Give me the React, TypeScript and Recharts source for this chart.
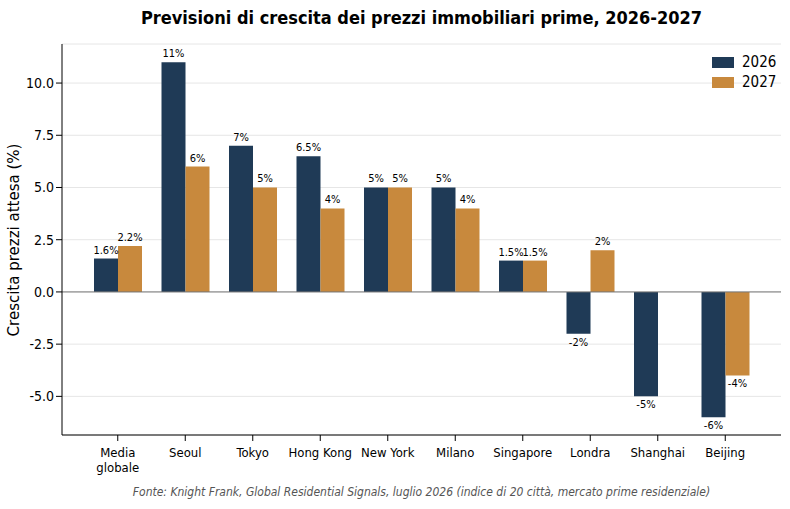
import { Bar, BarChart, CartesianGrid, LabelList, ReferenceLine, XAxis, YAxis } from "recharts";

const cities = ["Media\nglobale", "Seoul", "Tokyo", "Hong Kong", "New York", "Milano", "Singapore", "Londra", "Shanghai", "Beijing"];
const growth2026 = [1.6, 11, 7, 6.5, 5, 5, 1.5, -2, -5, -6];
const growth2027 = [2.2, 6, 5, 4, 5, 4, 1.5, 2, 0, -4];
const yTicks = [-5, -2.5, 0, 2.5, 5, 7.5, 10];

const NAVY = "#1f3a56";
const ORANGE = "#c8893d";
const FONT = "'DejaVu Sans Condensed', 'DejaVu Sans', sans-serif";
const cond = { fontStretch: "condensed" as const };

const data = cities.map((city, i) => ({ city, y2026: growth2026[i], y2027: growth2027[i] }));

const ValueLabel = (props: any) => {
  const { x, y, width, height, value } = props;
  const top = Math.min(y, y + height);
  const bottom = Math.max(y, y + height);
  const yy = value < 0 ? bottom + 12 : top - 5;
  return (
    <text x={x + width / 2} y={yy} textAnchor="middle" fontSize={11} fontFamily={FONT} style={cond} fill="#000">
      {value}%
    </text>
  );
};

const CityTick = (props: any) => {
  const { x, y, payload } = props;
  const lines = String(payload.value).split("\n");
  return (
    <text x={x} y={y + 14} textAnchor="middle" fontSize={13} fontFamily={FONT} style={cond} fill="#000">
      {lines.map((l, i) => (
        <tspan key={i} x={x} dy={i === 0 ? 0 : 15}>{l}</tspan>
      ))}
    </text>
  );
};

export default function App() {
  return (
    <div style={{ position: "absolute", left: 0, top: 0, width: 790, height: 509, background: "#fff", fontFamily: FONT, ...cond }}>
      <div style={{ position: "absolute", top: 7, left: 62, width: 719, textAlign: "center", fontWeight: "bold", fontSize: 18 }}>
        Previsioni di crescita dei prezzi immobiliari prime, 2026-2027
      </div>
      <div style={{ position: "absolute", left: 14, top: 240, transform: "translate(-50%, -50%) rotate(-90deg)", whiteSpace: "nowrap", fontSize: 15, fontFamily: "'DejaVu Sans', sans-serif", fontStretch: "normal" }}>
        Crescita prezzi attesa (%)
      </div>
      <BarChart width={790} height={509} data={data} margin={{ top: 44, right: 9, bottom: 34, left: 0 }} barGap={0} barSize={24}>
        <CartesianGrid vertical={false} stroke="#e6e6e6" />
        <XAxis dataKey="city" tick={<CityTick />} axisLine={{ stroke: "#000" }} tickLine={{ stroke: "#000" }} interval={0} height={40} padding={{ left: 22, right: 22 }} />
        <YAxis
          domain={[-6.85, 11.87]}
          ticks={yTicks}
          allowDataOverflow
          tickFormatter={(v: number) => v.toFixed(1)}
          tick={{ fontSize: 14, fill: "#000", fontFamily: FONT, style: cond }}
          axisLine={{ stroke: "#000" }}
          tickLine={{ stroke: "#000" }}
          width={62}
        />
        <ReferenceLine y={0} stroke="#777" />
        <Bar dataKey="y2026" fill={NAVY} isAnimationActive={false} minPointSize={0}>
          <LabelList dataKey="y2026" content={<ValueLabel />} />
        </Bar>
        <Bar dataKey="y2027" fill={ORANGE} isAnimationActive={false}>
          <LabelList dataKey="y2027" content={<ValueLabel />} />
        </Bar>
      </BarChart>
      <div style={{ position: "absolute", left: 712, top: 52, fontSize: 15, lineHeight: "20px" }}>
        <div style={{ display: "flex", alignItems: "center" }}>
          <span style={{ width: 22, height: 11, background: NAVY, marginRight: 8 }} />2026
        </div>
        <div style={{ display: "flex", alignItems: "center" }}>
          <span style={{ width: 22, height: 11, background: ORANGE, marginRight: 8 }} />2027
        </div>
      </div>
      <div style={{ position: "absolute", top: 485, left: 62, width: 719, textAlign: "center", fontSize: 12, fontStyle: "italic", color: "#555" }}>
        Fonte: Knight Frank, Global Residential Signals, luglio 2026 (indice di 20 città, mercato prime residenziale)
      </div>
    </div>
  );
}
